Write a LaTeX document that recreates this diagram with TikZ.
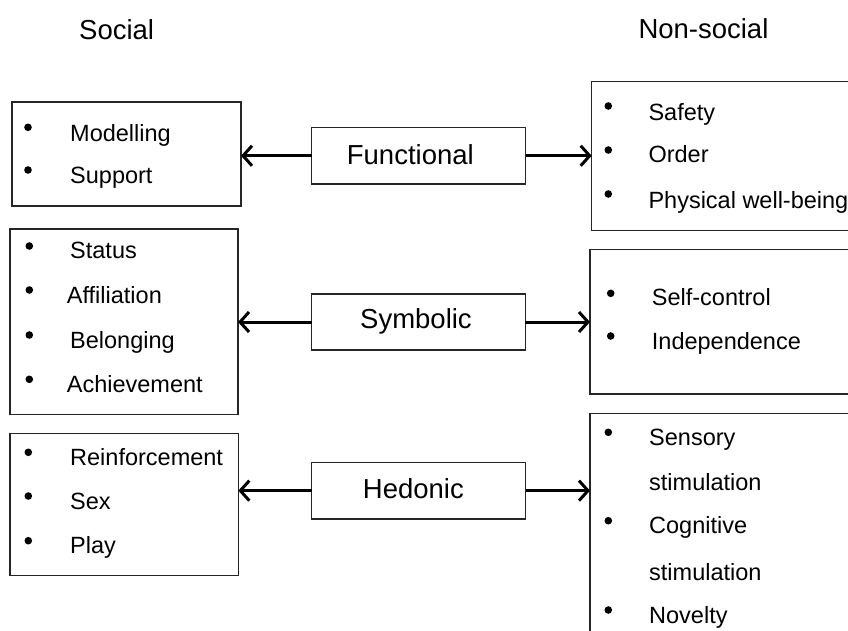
\documentclass[tikz,border=0pt]{standalone}
\usepackage{fontspec}
\setmainfont{Liberation Sans}
\usetikzlibrary{arrows.meta}
\begin{document}
\begin{tikzpicture}[x=1pt,y=-1pt,
  box/.style={draw=black!85, line width=1.3pt, inner sep=0pt, outer sep=0pt, anchor=north west},
  title/.style={inner sep=0pt, anchor=base west, font=\fontsize{27.5}{33}\selectfont},
  central/.style={inner sep=0pt, anchor=base west, font=\fontsize{27.5}{33}\selectfont},
  itemtext/.style={inner sep=0pt, anchor=base west, font=\fontsize{23.5}{28}\selectfont},
  bul/.style={circle, fill=black, inner sep=0pt, minimum size=7.6pt},
  link/.style={line width=3pt, -{Straight Barb[length=9pt,width=20pt]}}
]
\useasboundingbox (0,0) rectangle (848,630);
\clip (0,0) rectangle (848,630);

% titles
\node[title] (tsoc) at (79,39.3) {Social};
\node[title] (tnon) at (638.3,38.3) {Non-social};

% central boxes
\node[box, minimum width=214pt, minimum height=56.5pt] (F) at (311.7,127.5) {};
\node[box, minimum width=213.5pt, minimum height=56pt] (S) at (311.7,294) {};
\node[box, minimum width=214pt, minimum height=56.7pt] (H) at (311.7,462.3) {};
\node[central] (Ft) at (346.7,164) {Functional};
\node[central] (St) at (360,328.3) {Symbolic};
\node[central] (Ht) at (362.7,498.3) {Hedonic};

% left boxes
\node[box, minimum width=229pt, minimum height=104pt] (L1) at (12,102) {};
\node[box, minimum width=228pt, minimum height=185.3pt] (L2) at (10,229) {};
\node[box, minimum width=228.3pt, minimum height=142.4pt] (L3) at (10,433.3) {};

% right boxes
\node[box, minimum width=290pt, minimum height=149pt] (R1) at (591.7,81.7) {};
\node[box, minimum width=290pt, minimum height=144.7pt] (R2) at (590,249.3) {};
\node[box, minimum width=290pt, minimum height=260pt] (R3) at (590,413.3) {};

% connectors
\draw[link] (F.west) -- (F.west -| L1.east);
\draw[link] (F.east) -- (F.east -| R1.west);
\draw[link] (S.west) -- (S.west -| L2.east);
\draw[link] (S.east) -- (S.east -| R2.west);
\draw[link] (H.west) -- (H.west -| L3.east);
\draw[link] (H.east) -- (H.east -| R3.west);

% L1 items
\node[bul] (b11) at (28,127.3) {};
\node[bul] (b12) at (28,170) {};
\node[itemtext] (i11) at (70,141.7) {Modelling};
\node[itemtext] (i12) at (70,183.5) {Support};

% L2 items
\node[bul] (b21) at (29.3,246) {};
\node[bul] (b22) at (29.3,290) {};
\node[bul] (b23) at (29.3,335) {};
\node[bul] (b24) at (29.3,379.3) {};
\node[itemtext] (i21) at (70,258.3) {Status};
\node[itemtext] (i22) at (66.7,303.3) {Affiliation};
\node[itemtext] (i23) at (70,348.3) {Belonging};
\node[itemtext] (i24) at (66.7,392.3) {Achievement};

% L3 items
\node[bul] (b31) at (28.3,452.3) {};
\node[bul] (b32) at (28.3,496) {};
\node[bul] (b33) at (28.3,540.7) {};
\node[itemtext] (i31) at (70,465) {Reinforcement};
\node[itemtext] (i32) at (70,509.3) {Sex};
\node[itemtext] (i33) at (70,553.3) {Play};

% R1 items
\node[bul] (r11) at (608.3,106) {};
\node[bul] (r12) at (608.3,150) {};
\node[bul] (r13) at (608.3,194) {};
\node[itemtext] (j11) at (648.3,120) {Safety};
\node[itemtext] (j12) at (648.3,162.7) {Order};
\node[itemtext] (j13) at (648.3,208.3) {Physical well-being};

% R2 items
\node[bul] (r21) at (610.7,293.3) {};
\node[bul] (r22) at (610.7,336) {};
\node[itemtext] (j21) at (651.7,305) {Self-control};
\node[itemtext] (j22) at (651.7,349.3) {Independence};

% R3 items
\node[bul] (r31) at (608.3,432.3) {};
\node[bul] (r32) at (608.3,520.7) {};
\node[bul] (r33) at (608.3,610) {};
\node[itemtext] (j31) at (649,445) {Sensory};
\node[itemtext] (j32) at (649,490) {stimulation};
\node[itemtext] (j33) at (649,533.3) {Cognitive};
\node[itemtext] (j34) at (649,580) {stimulation};
\node[itemtext] (j35) at (649,623.3) {Novelty};
\end{tikzpicture}
\end{document}
